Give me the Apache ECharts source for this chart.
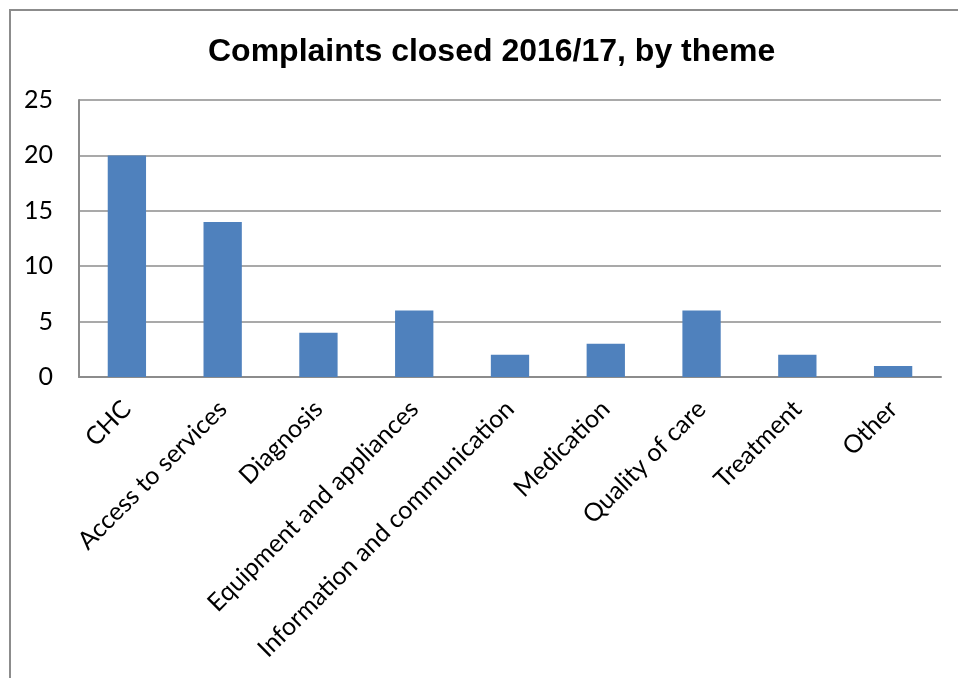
<!DOCTYPE html>
<html>
<head>
<meta charset="utf-8">
<script src="https://cdn.jsdelivr.net/npm/echarts@6/dist/echarts.min.js"></script>
<style>
  html, body { margin: 0; padding: 0; background: #fff; }
  #box1 { width: 958px; height: 678px; }
</style>
</head>
<body>
<div id="box1"></div>
<script>
// data
var categories = ["CHC", "Access to services", "Diagnosis", "Equipment and appliances",
  "Information and communication", "Medication", "Quality of care", "Treatment", "Other"];
var complaints = [20, 14, 4, 6, 2, 3, 6, 2, 1];
var yTicks = [0, 5, 10, 15, 20, 25];

var myChart = echarts.init(document.getElementById("box1"));

var option = {
  animation: false,
  title: {
    text: "Complaints closed 2016/17, by theme",
    left: 203,
    top: 31,
    textStyle: {
      fontFamily: "Liberation Sans",
      fontSize: 32,
      fontWeight: "bold",
      color: "#000"
    }
  },
  // outer chart border (runs off the page on right/bottom)
  graphic: [{
    type: "rect",
    shape: { x: 10, y: 10, width: 1000, height: 1000 },
    style: { fill: "none", stroke: "#8c8c8c", lineWidth: 2 },
    silent: true
  }],
  grid: {
    left: 79,
    right: 17,
    top: 100,
    bottom: 301
  },
  xAxis: {
    type: "category",
    data: categories,
    axisLine: { lineStyle: { color: "#8c8c8c", width: 2 } },
    axisTick: { show: false },
    axisLabel: {
      rotate: 45,
      interval: 0,
      margin: 28,
      fontFamily: "Lato",
      fontSize: 25,
      color: "#000"
    }
  },
  yAxis: {
    type: "value",
    min: yTicks[0],
    max: yTicks[yTicks.length - 1],
    interval: 5,
    axisLine: { show: true, lineStyle: { color: "#8c8c8c", width: 2 } },
    axisTick: { show: false },
    splitLine: { lineStyle: { color: "#8c8c8c", width: 1.5 } },
    axisLabel: {
      margin: 26,
      fontFamily: "Lato",
      fontSize: 25,
      color: "#000"
    }
  },
  series: [{
    type: "bar",
    data: complaints,
    barWidth: "40%",
    itemStyle: { color: "#4f81bd" }
  }]
};

myChart.setOption(option);
</script>
</body>
</html>
